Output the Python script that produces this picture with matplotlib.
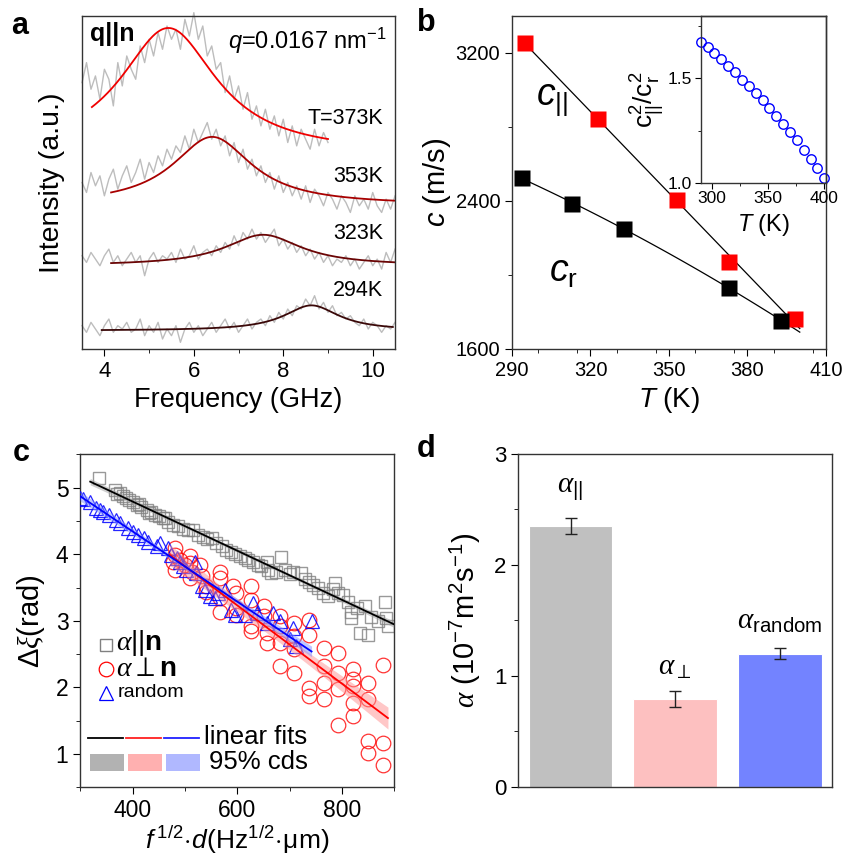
import numpy as np
import matplotlib
matplotlib.use('Agg')
import matplotlib.pyplot as plt
from matplotlib.ticker import MultipleLocator

plt.rcParams['font.family'] = ['Liberation Sans', 'DejaVu Sans']
plt.rcParams['mathtext.fontset'] = 'custom'
plt.rcParams['mathtext.rm'] = 'Liberation Sans'
plt.rcParams['mathtext.it'] = 'Liberation Sans:italic'
plt.rcParams['mathtext.bf'] = 'Liberation Sans:bold'
plt.rcParams['mathtext.sf'] = 'Liberation Serif:italic'
plt.rcParams['axes.linewidth'] = 1.0
plt.rcParams['axes.edgecolor'] = '#333333'
plt.rcParams['xtick.major.size'] = 5
plt.rcParams['ytick.major.size'] = 5
plt.rcParams['xtick.minor.size'] = 3
plt.rcParams['ytick.minor.size'] = 3

# ---------------- panel a: spectra ----------------
freq_step = 0.1
spec_373 = [80, 86, 78, 82, 75, 84, 81, 73, 86, 79, 88, 84, 81, 91, 86, 93, 88, 95, 90, 97,
            93, 96, 90, 99, 94, 101, 93, 97, 88, 91, 84, 86, 77, 82, 75, 79, 72, 77, 69, 73,
            67, 72, 66, 70, 64, 69, 62, 67, 61, 66, 63, 60, 66, 61, 65, 62]
spec_353 = [50, 47, 53, 49, 52, 46, 51, 54, 48, 52, 55, 50, 53, 57, 51, 56, 53, 58, 55, 60,
            57, 61, 59, 64, 60, 66, 62, 65, 68, 63, 66, 61, 64, 58, 62, 56, 60, 54, 57, 52,
            55, 50, 53, 48, 52, 47, 50, 46, 49, 45, 49, 44, 48, 46, 43, 47, 45, 42, 46, 44,
            41, 46, 43, 45, 42, 47, 43, 41, 45, 42, 46]
spec_323 = [28, 26, 29, 27, 25, 28, 30, 26, 28, 25, 27, 29, 26, 28, 22, 27, 29, 26, 28, 27,
            29, 26, 30, 27, 28, 31, 27, 29, 30, 28, 31, 29, 32, 30, 34, 31, 35, 33, 36, 33,
            35, 32, 34, 36, 31, 33, 30, 32, 29, 31, 28, 30, 27, 29, 26, 28, 25, 27, 26, 28,
            25, 27, 24, 26, 28, 25, 27, 24, 29, 26, 30]
spec_294 = [7, 5, 8, 6, 4, 7, 9, 5, 7, 6, 8, 5, 6, 9, 4, 7, 5, 8, 3, 6,
            4, 7, 2, 6, 8, 5, 7, 4, 6, 8, 5, 7, 9, 6, 8, 5, 7, 9, 6, 8,
            9, 7, 10, 8, 11, 9, 12, 10, 13, 12, 15, 13, 16, 12, 14, 11, 13, 10, 11, 9,
            10, 8, 7, 9, 6, 8, 7, 5, 7, 6, 8]
spectra = [spec_373, spec_353, spec_323, spec_294]
temp_labels = ['T=373K', '353K', '323K', '294K']
temp_label_y = [69.3, 51.7, 34.7, 17.7]
fit_center = [5.43, 6.41, 7.55, 8.63]
fit_width = [1.32, 1.08, 1.04, 0.75]
fit_amp = [37.9, 20.5, 9.3, 7.6]
fit_base = [58.5, 43.2, 25.0, 5.5]
fit_lo = [3.72, 4.15, 4.15, 3.94]
fit_hi = [9.0, 10.5, 10.5, 10.45]
fit_colors = ['#F00000', '#A80000', '#6A0505', '#3A0808']

# ---------------- panel b: sound velocity ----------------
T_par = [295, 323, 353, 373, 398]
c_par = [3254, 2843, 2406, 2070, 1763]
T_r = [294, 313, 333, 373, 393]
c_r = [2523, 2386, 2248, 1932, 1752]
T_ratio = [290, 296.1, 302.2, 308.3, 314.4, 320.6, 326.7, 332.8, 338.9, 345.0,
           351.1, 357.2, 363.3, 369.4, 375.6, 381.7, 387.8, 393.9, 400]
ratio = [1.675, 1.651, 1.621, 1.592, 1.561, 1.529, 1.495, 1.465, 1.429, 1.395,
         1.359, 1.322, 1.281, 1.243, 1.203, 1.159, 1.114, 1.069, 1.021]

# ---------------- panel c: phase lag ----------------
gray_x = [336, 366, 371, 382, 394, 401, 408, 417, 427, 436, 443, 451, 458, 468, 478, 487,
          497, 506, 516, 525, 535, 542, 551, 560, 570, 579, 588, 595, 605, 614, 621, 630,
          640, 646, 656, 658, 665, 675, 683, 691, 700, 707, 722, 729, 738, 745, 754, 764,
          773, 783, 786, 792, 802, 811, 818, 818, 828, 834, 844, 850, 856, 869, 882, 885,
          888, 376, 388, 413, 432, 462]
gray_y = [5.14, 4.97, 4.90, 4.87, 4.82, 4.79, 4.74, 4.71, 4.67, 4.63, 4.59, 4.58, 4.54, 4.49,
          4.44, 4.42, 4.38, 4.36, 4.37, 4.29, 4.26, 4.23, 4.24, 4.17, 4.12, 4.07, 4.04, 4.00,
          3.97, 3.94, 3.92, 3.88, 3.84, 3.82, 3.88, 3.77, 3.72, 3.74, 3.96, 3.77, 3.71, 3.73,
          3.72, 3.63, 3.59, 3.54, 3.49, 3.42, 3.37, 3.48, 3.57, 3.42, 3.39, 3.28, 3.14, 3.04,
          3.19, 2.82, 3.22, 2.79, 3.06, 2.99, 3.29, 3.04, 2.92, 4.92, 4.85, 4.76, 4.62, 4.55]
blue_x = [300, 306, 319, 331, 338, 344, 354, 369, 376, 392, 401, 411, 421, 430, 446, 452,
          468, 474, 484, 490, 497, 503, 519, 522, 532, 538, 548, 557, 564, 576, 589, 595,
          614, 630, 637, 656, 668, 681, 700, 707, 713, 742]
blue_y = [4.84, 4.83, 4.79, 4.69, 4.67, 4.64, 4.59, 4.52, 4.47, 4.39, 4.34, 4.29, 4.24, 4.19,
          4.12, 4.17, 4.09, 3.99, 3.94, 3.89, 3.82, 3.77, 3.89, 3.72, 3.52, 3.47, 3.37, 3.34,
          3.42, 3.47, 3.17, 3.09, 3.09, 3.27, 3.12, 2.97, 3.12, 2.99, 2.72, 2.89, 2.62, 2.99]
red_x = [481, 481, 478, 481, 490, 500, 509, 509, 513, 509, 529, 532, 541, 541, 567, 567,
         567, 567, 592, 598, 598, 598, 627, 627, 627, 627, 652, 652, 656, 656, 681, 681,
         681, 681, 709, 709, 709, 709, 738, 738, 738, 738, 766, 766, 766, 766, 792, 792,
         792, 792, 821, 821, 821, 821, 821, 849, 849, 849, 849, 878, 878, 878]
red_y = [4.09, 3.99, 3.89, 3.77, 3.92, 3.84, 3.97, 3.87, 3.74, 3.64, 3.84, 3.67, 3.52, 3.44,
         3.74, 3.64, 3.34, 3.14, 3.52, 3.42, 3.19, 3.09, 3.52, 3.32, 2.92, 2.84, 3.22, 3.07,
         2.82, 2.67, 3.07, 2.92, 2.67, 2.32, 2.97, 2.77, 2.57, 2.22, 3.02, 2.79, 1.99, 1.87,
         2.59, 2.32, 2.07, 1.82, 2.52, 2.22, 1.97, 1.44, 2.27, 2.12, 2.02, 1.77, 1.57, 2.07,
         1.82, 1.19, 1.02, 2.34, 1.17, 0.84]
gray_fit_x = [319, 899]
gray_fit_y = [5.09, 2.95]
red_fit_x = [471, 888]
red_fit_y = [3.99, 1.54]
blue_fit_x = [300, 742]
blue_fit_y = [4.87, 2.54]

# ---------------- panel d: diffusivity ----------------
alpha_names = [r'$\mathsf{\alpha}_{||}$', r'$\mathsf{\alpha}_{\perp}$', r'$\mathsf{\alpha}_{\mathrm{random}}$']
alpha_vals = [2.35, 0.79, 1.20]
alpha_err = [0.07, 0.07, 0.05]
alpha_label_y = [2.68, 1.08, 1.49]
bar_colors = ['#C0C0C0', '#FDC0C0', '#7383FF']

fig = plt.figure(figsize=(8.44, 8.6), dpi=100)

# ===== a =====
ax_a = fig.add_axes([0.0972, 0.5942, 0.3709, 0.3872])
for i, spec in enumerate(spectra):
    fx = 3.5 + freq_step * np.arange(len(spec))
    ax_a.plot(fx, spec, color='#BDBDBD', lw=1.0, clip_on=False, zorder=1)
    xs = np.linspace(fit_lo[i], fit_hi[i], 300)
    ys = fit_base[i] + fit_amp[i] / (1 + ((xs - fit_center[i]) / fit_width[i]) ** 2)
    ax_a.plot(xs, ys, color=fit_colors[i], lw=1.3, zorder=2)
    ax_a.text(10.24, temp_label_y[i], temp_labels[i], ha='right', va='center', fontsize=15.5)
ax_a.set_xlim(3.5, 10.5)
ax_a.set_ylim(0, 100)
ax_a.set_yticks([])
ax_a.set_xticks([4, 6, 8, 10])
ax_a.xaxis.set_minor_locator(MultipleLocator(1))
ax_a.tick_params(axis='x', labelsize=16)
ax_a.set_xlabel('Frequency (GHz)', fontsize=19.5)
ax_a.set_ylabel('Intensity (a.u.)', fontsize=20.5, labelpad=12)
ax_a.text(0.026, 0.945, 'q||n', transform=ax_a.transAxes, fontsize=18, fontweight='bold',
          ha='left', va='center')
ax_a.text(0.975, 0.925, r'$q$=0.0167 nm$^{-1}$', transform=ax_a.transAxes, fontsize=17,
          ha='right', va='center')

# ===== b =====
ax_b = fig.add_axes([0.6066, 0.5942, 0.3720, 0.3872])
tt = np.linspace(295, 400, 100)
p_par = np.polyfit(T_par, c_par, 1)
ax_b.plot(tt, np.polyval(p_par, tt), color='black', lw=0.9, zorder=2)
tr = np.linspace(294, 400, 100)
p_r = np.polyfit(T_r, c_r, 2)
ax_b.plot(tr, np.polyval(p_r, tr), color='black', lw=0.9, zorder=2)
ax_b.plot(T_par, c_par, 's', color='#FF0000', ms=11.5, mec='none', zorder=3, clip_on=False)
ax_b.plot(T_r, c_r, 's', color='black', ms=11.5, mec='none', zorder=3, clip_on=False)
ax_b.set_xlim(290, 410)
ax_b.set_ylim(1600, 3400)
ax_b.set_xticks([290, 320, 350, 380, 410])
ax_b.xaxis.set_minor_locator(MultipleLocator(15))
ax_b.set_yticks([1600, 2400, 3200])
ax_b.yaxis.set_minor_locator(MultipleLocator(400))
ax_b.tick_params(labelsize=14.5)
ax_b.set_xlabel(r'$T$ (K)', fontsize=20)
ax_b.set_ylabel(r'$c$ (m/s)', fontsize=21, labelpad=2)
ax_b.text(305.2, 2946, r'$c_{||}$', fontsize=27, ha='center', va='center')
ax_b.text(309.6, 2018, r'$c_{\mathrm{r}}$', fontsize=27, ha='center', va='center')

ax_in = fig.add_axes([0.8302, 0.7876, 0.1485, 0.1938])
ax_in.patch.set_alpha(0)
ax_in.plot(T_ratio, ratio, 'o', mfc='none', mec='#0000FF', ms=6.8, mew=1.0, clip_on=False)
ax_in.set_xlim(290, 401.5)
ax_in.set_ylim(1.0, 1.8)
ax_in.set_xticks([300, 350, 400])
ax_in.xaxis.set_minor_locator(MultipleLocator(25))
ax_in.set_yticks([1.0, 1.5])
ax_in.yaxis.set_minor_locator(MultipleLocator(0.25))
ax_in.tick_params(labelsize=12.5, pad=2)
ax_in.tick_params(which='major', length=4)
ax_in.tick_params(which='minor', length=2)
ax_in.set_xlabel(r'$T$ (K)', fontsize=17, labelpad=4)
ax_in.set_ylabel(r'$\mathrm{c}^2_{||}/\mathrm{c}^2_{\mathrm{r}}$', fontsize=19, labelpad=1)

# ===== c =====
ax_c = fig.add_axes([0.0951, 0.0845, 0.3720, 0.3872])


def band(xd, yd, fx, fy, xs):
    xd = np.asarray(xd, float)
    yd = np.asarray(yd, float)
    k = (fy[1] - fy[0]) / (fx[1] - fx[0])
    line = fy[0] + k * (xs - fx[0])
    res = yd - (fy[0] + k * (xd - fx[0]))
    n = len(xd)
    s = np.sqrt(np.sum(res ** 2) / (n - 2))
    sxx = np.sum((xd - xd.mean()) ** 2)
    hw = 2.0 * s * np.sqrt(1.0 / n + (xs - xd.mean()) ** 2 / sxx)
    return line, hw


ax_c.plot(gray_x, gray_y, 's', mfc='none', mec='#808080', ms=9, mew=1.0, alpha=0.8, zorder=2)
ax_c.plot(red_x, red_y, 'o', mfc='none', mec='#FF0000', ms=10.5, mew=0.9, alpha=0.8, zorder=3)
ax_c.plot(blue_x, blue_y, '^', mfc='none', mec='#0000FF', ms=10, mew=0.9, alpha=0.85, zorder=4)
for xd, yd, fxl, fyl, lc, bc in [(gray_x, gray_y, gray_fit_x, gray_fit_y, 'black', '#A0A0A0'),
                                 (red_x, red_y, red_fit_x, red_fit_y, '#FF0000', '#FF9090'),
                                 (blue_x, blue_y, blue_fit_x, blue_fit_y, '#0000FF', '#8090FF')]:
    xs = np.linspace(fxl[0], fxl[1], 100)
    line, hw = band(xd, yd, fxl, fyl, xs)
    ax_c.fill_between(xs, line - hw, line + hw, color=bc, alpha=0.5, lw=0, zorder=5)
    ax_c.plot(xs, line, color=lc, lw=1.3, zorder=6)
ax_c.set_xlim(300, 900)
ax_c.set_ylim(0.5, 5.5)
ax_c.set_xticks([400, 600, 800])
ax_c.xaxis.set_minor_locator(MultipleLocator(100))
ax_c.set_yticks([1, 2, 3, 4, 5])
ax_c.yaxis.set_minor_locator(MultipleLocator(0.5))
ax_c.tick_params(labelsize=16.5)
ax_c.set_xlabel(r'$f^{\,1/2}\!\cdot\!d$(Hz$^{1/2}\!\cdot\!$μm)', fontsize=19, labelpad=1)
ax_c.set_ylabel(r'Δ$\mathsf{\xi}$(rad)', fontsize=21, labelpad=6)

tr_c = ax_c.transAxes
ax_c.plot([0.082], [0.427], 's', mfc='none', mec='#808080', ms=9, mew=1.0, transform=tr_c)
ax_c.text(0.115, 0.432, r'$\mathsf{\alpha}$||$\mathbf{n}$', transform=tr_c, fontsize=20,
          va='center', ha='left')
ax_c.plot([0.082], [0.354], 'o', mfc='none', mec='#FF0000', ms=10.5, mew=0.9, transform=tr_c)
ax_c.text(0.115, 0.356, r'$\mathsf{\alpha}\perp\mathbf{n}$', transform=tr_c, fontsize=20,
          va='center', ha='left')
ax_c.plot([0.082], [0.282], '^', mfc='none', mec='#0000FF', ms=10, mew=0.9, transform=tr_c)
ax_c.text(0.12, 0.284, 'random', transform=tr_c, fontsize=14, va='center', ha='left')
for (x0, x1), col in zip([(0.025, 0.135), (0.147, 0.257), (0.268, 0.378)],
                         ['black', '#FF2020', '#2020FF']):
    ax_c.plot([x0, x1], [0.147, 0.147], color=col, lw=1.3, transform=tr_c)
for (x0, x1), col in zip([(0.031, 0.139), (0.152, 0.260), (0.272, 0.380)],
                         ['#B2B2B2', '#FFB0B0', '#B0B8FF']):
    ax_c.fill_between([x0, x1], [0.05, 0.05], [0.10, 0.10], color=col, lw=0, transform=tr_c)
ax_c.text(0.395, 0.152, 'linear fits', transform=tr_c, fontsize=18.5, va='center', ha='left')
ax_c.text(0.41, 0.075, '95% cds', transform=tr_c, fontsize=18.5, va='center', ha='left')

# ===== d =====
ax_d = fig.add_axes([0.6141, 0.0852, 0.3720, 0.3869])
pos = np.arange(1, len(alpha_vals) + 1)
ax_d.bar(pos, alpha_vals, width=0.8, color=bar_colors, edgecolor='white', lw=0.8)
ax_d.errorbar(pos, alpha_vals, yerr=alpha_err, fmt='none', ecolor='#222222', elinewidth=1.0,
              capsize=4, capthick=1.0)
for p, name, ly in zip(pos, alpha_names, alpha_label_y):
    ax_d.text(p, ly, name, fontsize=21, ha='center', va='center')
ax_d.set_xlim(0.5, 3.5)
ax_d.set_ylim(0, 3)
ax_d.set_xticks([])
ax_d.set_yticks([0, 1, 2, 3])
ax_d.yaxis.set_minor_locator(MultipleLocator(0.5))
ax_d.tick_params(labelsize=16)
ax_d.set_ylabel(r'$\mathsf{\alpha}$ (10$^{-7}$m$^2$s$^{-1}$)', fontsize=21, labelpad=8)

# panel letters
for lab, x, y in [('a', 20, 26), ('b', 426, 23), ('c', 21, 453), ('d', 426, 449)]:
    fig.text(x / 844, 1 - y / 860, lab, fontsize=22, fontweight='bold', ha='center', va='center')

fig.savefig('out.png', dpi=100)
